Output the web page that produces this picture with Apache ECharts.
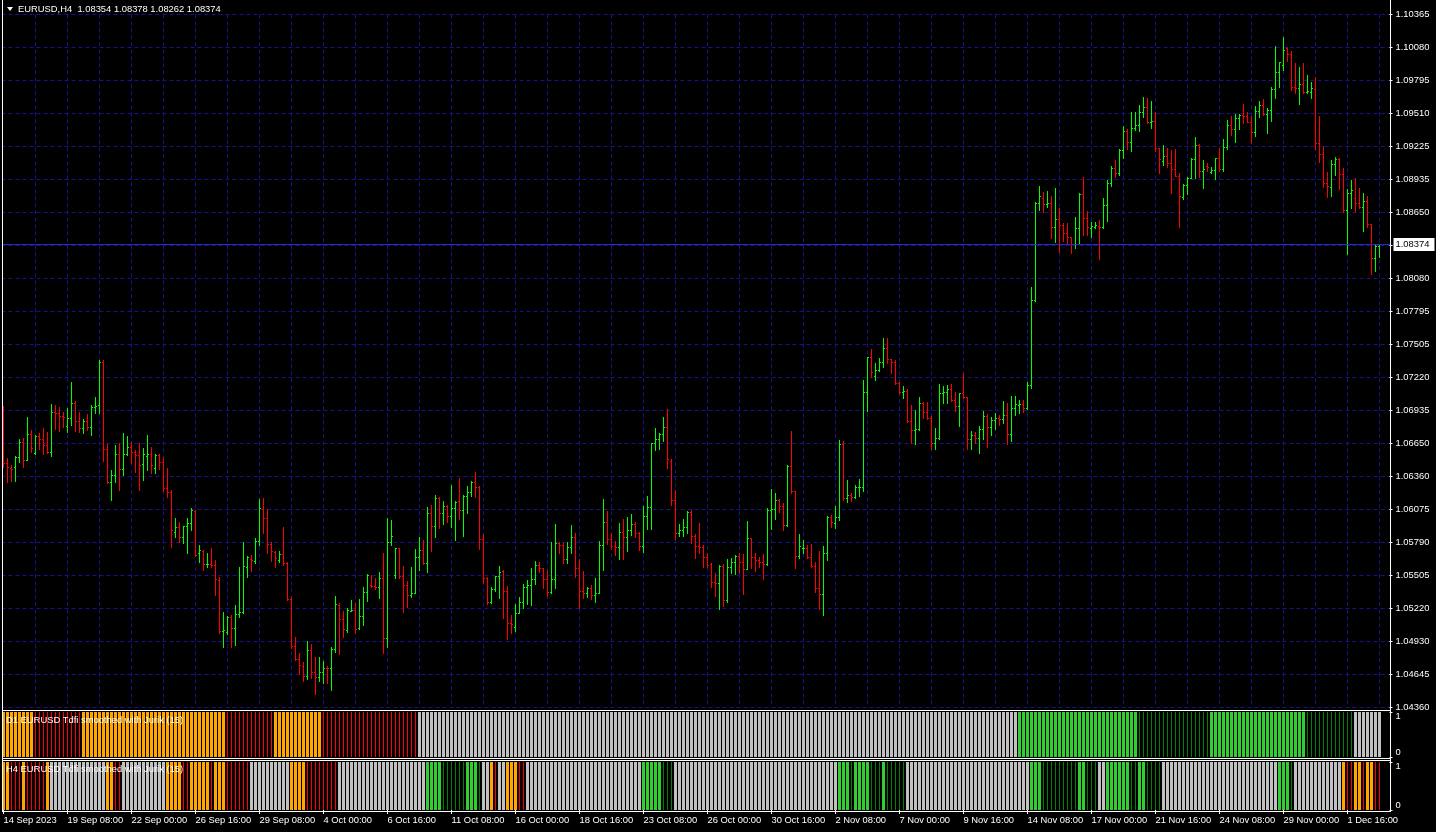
<!DOCTYPE html>
<html><head><meta charset="utf-8">
<script src="https://cdn.jsdelivr.net/npm/echarts@6/dist/echarts.min.js"></script>
<style>html,body{margin:0;padding:0;background:#000;overflow:hidden}#c{width:1436px;height:832px}</style>
</head><body><div id="c"></div><script>
const symbolName = 'EURUSD,H4';
// [open, high, low, close] per H4 bar, starting 14 Sep 2023 16:00
const priceBars = [
[1.06483,1.06971,1.06445,1.06474],[1.06480,1.06518,1.06315,1.06440],[1.06431,1.06460,1.06324,1.06425],[1.06440,1.06538,1.06324,1.06532],
[1.06532,1.06685,1.06483,1.06656],[1.06656,1.06691,1.06445,1.06503],[1.06503,1.06876,1.06503,1.06726],[1.06726,1.06763,1.06575,1.06604],
[1.06561,1.06720,1.06555,1.06714],[1.06714,1.06734,1.06598,1.06682],[1.06682,1.06778,1.06555,1.06633],[1.06633,1.06749,1.06561,1.06570],
[1.06570,1.06988,1.06538,1.06916],[1.06922,1.06980,1.06772,1.06908],[1.06908,1.06959,1.06754,1.06884],[1.06884,1.06922,1.06786,1.06879],
[1.06798,1.06951,1.06749,1.06864],[1.06864,1.07179,1.06806,1.07000],[1.07000,1.07014,1.06757,1.06844],[1.06844,1.06922,1.06749,1.06783],
[1.06778,1.06858,1.06740,1.06844],[1.06844,1.06902,1.06763,1.06786],[1.06786,1.06980,1.06720,1.06959],[1.06959,1.07049,1.06913,1.06974],
[1.06977,1.07370,1.06913,1.07349],[1.07349,1.07370,1.06497,1.06598],[1.06598,1.06639,1.06301,1.06310],[1.06310,1.06416,1.06157,1.06373],
[1.06373,1.06633,1.06315,1.06552],[1.06552,1.06647,1.06243,1.06425],[1.06425,1.06734,1.06373,1.06552],[1.06552,1.06711,1.06547,1.06619],
[1.06619,1.06662,1.06480,1.06575],[1.06575,1.06590,1.06402,1.06547],[1.06547,1.06647,1.06243,1.06460],[1.06466,1.06610,1.06330,1.06552],
[1.06540,1.06720,1.06416,1.06552],[1.06552,1.06619,1.06388,1.06460],[1.06431,1.06555,1.06393,1.06546],[1.06546,1.06555,1.06422,1.06489],
[1.06489,1.06532,1.06237,1.06258],[1.06258,1.06431,1.06185,1.06229],[1.06229,1.06243,1.05752,1.05897],[1.05882,1.05998,1.05839,1.05925],
[1.05925,1.05969,1.05795,1.05839],[1.05839,1.05931,1.05781,1.05931],[1.05931,1.06003,1.05694,1.05954],[1.05954,1.06090,1.05897,1.06070],
[1.06064,1.06070,1.05674,1.05680],[1.05694,1.05767,1.05616,1.05723],[1.05715,1.05723,1.05550,1.05599],[1.05599,1.05694,1.05573,1.05605],
[1.05605,1.05738,1.05579,1.05593],[1.05593,1.05636,1.05333,1.05469],[1.05463,1.05492,1.05007,1.05024],[1.05024,1.05189,1.04880,1.05030],
[1.05016,1.05154,1.04993,1.05146],[1.05146,1.05160,1.04886,1.05045],[1.05045,1.05247,1.04900,1.05166],[1.05166,1.05579,1.05146,1.05183],
[1.05183,1.05795,1.05175,1.05585],[1.05579,1.05674,1.05492,1.05665],[1.05642,1.05680,1.05544,1.05636],[1.05628,1.05824,1.05614,1.05801],
[1.05801,1.06165,1.05767,1.06084],[1.06078,1.06171,1.05873,1.05998],[1.05998,1.06078,1.05694,1.05775],[1.05775,1.05795,1.05631,1.05715],
[1.05709,1.05717,1.05573,1.05651],[1.05636,1.05717,1.05616,1.05686],[1.05686,1.05925,1.05593,1.05614],[1.05614,1.05622,1.05290,1.05296],
[1.05296,1.05313,1.04871,1.04892],[1.04892,1.04972,1.04770,1.04776],[1.04776,1.04834,1.04649,1.04727],[1.04718,1.04756,1.04591,1.04632],
[1.04632,1.04935,1.04603,1.04857],[1.04857,1.04909,1.04611,1.04669],[1.04669,1.04799,1.04476,1.04626],[1.04620,1.04799,1.04591,1.04669],
[1.04669,1.04762,1.04574,1.04704],[1.04704,1.04721,1.04568,1.04698],[1.04698,1.04880,1.04510,1.04863],[1.04863,1.05325,1.04842,1.05252],
[1.05247,1.05261,1.04822,1.05123],[1.05123,1.05198,1.04972,1.05036],[1.05030,1.05224,1.05016,1.05203],[1.05198,1.05290,1.05198,1.05205],
[1.05203,1.05266,1.05007,1.05036],[1.05045,1.05299,1.05036,1.05152],[1.05152,1.05406,1.05074,1.05357],[1.05357,1.05515,1.05284,1.05507],
[1.05420,1.05507,1.05406,1.05414],[1.05414,1.05478,1.05383,1.05406],[1.05406,1.05536,1.05310,1.05478],[1.05478,1.05694,1.04828,1.04958],
[1.04958,1.05997,1.04880,1.05795],[1.05795,1.05986,1.05767,1.05845],[1.05507,1.05744,1.05478,1.05738],[1.05738,1.05744,1.05478,1.05501],
[1.05501,1.05585,1.05189,1.05420],[1.05420,1.05458,1.05226,1.05334],[1.05334,1.05579,1.05313,1.05354],[1.05354,1.05729,1.05348,1.05660],
[1.05660,1.05839,1.05550,1.05723],[1.05723,1.05810,1.05602,1.05608],[1.05608,1.06099,1.05536,1.06041],[1.06041,1.06113,1.05718,1.05931],
[1.05931,1.06200,1.05839,1.06171],[1.06171,1.06180,1.05917,1.06047],[1.06047,1.06148,1.05949,1.06105],[1.06105,1.06113,1.05969,1.06021],
[1.06021,1.06287,1.05926,1.06084],[1.06084,1.06148,1.05810,1.06142],[1.06148,1.06344,1.05992,1.06070],[1.06070,1.06200,1.05845,1.06191],
[1.06191,1.06278,1.06047,1.06223],[1.06223,1.06321,1.06191,1.06315],[1.06315,1.06402,1.06185,1.06266],[1.06266,1.06278,1.05729,1.05816],
[1.05816,1.05862,1.05440,1.05484],[1.05484,1.05492,1.05256,1.05276],[1.05276,1.05400,1.05261,1.05382],[1.05382,1.05501,1.05371,1.05498],
[1.05498,1.05585,1.05310,1.05536],[1.05541,1.05550,1.05137,1.05368],[1.05368,1.05411,1.04949,1.05088],[1.05088,1.05160,1.05007,1.05080],
[1.05053,1.05256,1.05024,1.05175],[1.05175,1.05319,1.05175,1.05270],[1.05270,1.05429,1.05224,1.05406],[1.05406,1.05463,1.05256,1.05417],
[1.05417,1.05565,1.05247,1.05469],[1.05469,1.05628,1.05429,1.05593],[1.05593,1.05622,1.05536,1.05570],[1.05565,1.05565,1.05391,1.05469],
[1.05469,1.05550,1.05328,1.05357],[1.05357,1.05796,1.05354,1.05469],[1.05469,1.05949,1.05391,1.05787],[1.05787,1.05796,1.05700,1.05767],
[1.05767,1.05787,1.05608,1.05642],[1.05642,1.05796,1.05608,1.05752],[1.05752,1.05940,1.05700,1.05833],[1.05833,1.05868,1.05492,1.05565],
[1.05565,1.05645,1.05224,1.05368],[1.05368,1.05541,1.05310,1.05354],[1.05354,1.05406,1.05313,1.05391],[1.05391,1.05420,1.05299,1.05334],
[1.05334,1.05484,1.05276,1.05354],[1.05354,1.05801,1.05348,1.05767],[1.05767,1.06165,1.05550,1.05963],[1.05963,1.06061,1.05775,1.05816],
[1.05816,1.05874,1.05732,1.05761],[1.05761,1.05801,1.05680,1.05752],[1.05752,1.05960,1.05645,1.05876],[1.05876,1.05992,1.05645,1.05839],
[1.05839,1.06012,1.05715,1.05897],[1.05897,1.06035,1.05853,1.05949],[1.05949,1.05966,1.05833,1.05868],[1.05868,1.05882,1.05723,1.05761],
[1.05761,1.06105,1.05706,1.06021],[1.06021,1.06191,1.05906,1.06093],[1.06093,1.06653,1.05906,1.06647],[1.06647,1.06783,1.06590,1.06682],
[1.06682,1.06740,1.06598,1.06726],[1.06726,1.06879,1.06671,1.06786],[1.06786,1.06945,1.06437,1.06509],[1.06497,1.06509,1.06113,1.06157],
[1.06157,1.06243,1.05819,1.05868],[1.05868,1.05949,1.05845,1.05897],[1.05897,1.05992,1.05845,1.05920],[1.05920,1.06061,1.05868,1.06055],
[1.06055,1.06070,1.05781,1.05847],[1.05847,1.05859,1.05657,1.05760],[1.05760,1.05954,1.05700,1.05752],[1.05752,1.05767,1.05579,1.05660],
[1.05660,1.05694,1.05579,1.05593],[1.05602,1.05613,1.05406,1.05449],[1.05449,1.05527,1.05328,1.05440],[1.05440,1.05593,1.05212,1.05588],
[1.05588,1.05599,1.05241,1.05290],[1.05290,1.05642,1.05276,1.05579],[1.05579,1.05657,1.05527,1.05622],[1.05622,1.05680,1.05515,1.05671],
[1.05671,1.05694,1.05521,1.05616],[1.05616,1.05686,1.05342,1.05560],[1.05556,1.05975,1.05556,1.05824],[1.05824,1.05830,1.05564,1.05660],
[1.05660,1.05694,1.05541,1.05637],[1.05637,1.05665,1.05579,1.05622],[1.05622,1.05686,1.05469,1.05602],[1.05602,1.06084,1.05593,1.06070],
[1.06070,1.06252,1.05905,1.06075],[1.06075,1.06220,1.05992,1.06157],[1.06157,1.06165,1.06055,1.06107],[1.06107,1.06128,1.05897,1.05940],
[1.05940,1.06460,1.05931,1.06451],[1.06451,1.06754,1.06214,1.06237],[1.06237,1.06237,1.05570,1.05674],[1.05674,1.05862,1.05657,1.05758],
[1.05738,1.05810,1.05694,1.05743],[1.05743,1.05767,1.05657,1.05665],[1.05665,1.05775,1.05579,1.05585],[1.05585,1.05622,1.05362,1.05391],
[1.05391,1.05715,1.05212,1.05342],[1.05342,1.05758,1.05160,1.05694],[1.05694,1.06018,1.05637,1.06012],[1.06012,1.06027,1.05920,1.05963],
[1.05954,1.06105,1.05911,1.06006],[1.06006,1.06676,1.05983,1.06639],[1.06639,1.06668,1.06160,1.06172],[1.06172,1.06330,1.06140,1.06200],
[1.06200,1.06214,1.06150,1.06186],[1.06186,1.06287,1.06170,1.06266],[1.06266,1.06339,1.06194,1.06272],[1.06272,1.07196,1.06237,1.07095],
[1.07095,1.07399,1.06931,1.07393],[1.07393,1.07465,1.07220,1.07263],[1.07231,1.07341,1.07196,1.07283],[1.07283,1.07384,1.07275,1.07355],
[1.07355,1.07563,1.07312,1.07471],[1.07471,1.07563,1.07341,1.07375],[1.07375,1.07380,1.07260,1.07349],[1.07349,1.07370,1.07159,1.07167],
[1.07167,1.07176,1.07081,1.07095],[1.07095,1.07144,1.07043,1.07101],[1.07101,1.07115,1.06835,1.06844],[1.06844,1.06980,1.06648,1.06763],
[1.06763,1.06936,1.06639,1.06769],[1.06769,1.07052,1.06763,1.07000],[1.07000,1.07006,1.06864,1.06916],[1.06916,1.07009,1.06856,1.06864],
[1.06864,1.06885,1.06598,1.06648],[1.06648,1.06783,1.06595,1.06691],[1.06691,1.07162,1.06685,1.07081],[1.07081,1.07144,1.06994,1.07089],
[1.07089,1.07153,1.07000,1.07115],[1.07115,1.07162,1.07017,1.07023],[1.07023,1.07095,1.06928,1.06974],[1.06974,1.07087,1.06801,1.07081],
[1.07081,1.07260,1.07037,1.07052],[1.07052,1.07052,1.06595,1.06685],[1.06685,1.06754,1.06598,1.06720],[1.06720,1.06743,1.06648,1.06691],
[1.06691,1.06798,1.06561,1.06772],[1.06772,1.06931,1.06685,1.06885],[1.06885,1.06902,1.06618,1.06792],[1.06792,1.06873,1.06720,1.06850],
[1.06850,1.06908,1.06772,1.06864],[1.06864,1.06893,1.06807,1.06856],[1.06856,1.07015,1.06821,1.06893],[1.06893,1.07000,1.06642,1.06726],
[1.06726,1.07058,1.06671,1.06951],[1.06951,1.07058,1.06893,1.06986],[1.06980,1.07023,1.06913,1.06990],[1.06990,1.07023,1.06922,1.06951],
[1.06951,1.07182,1.06942,1.07153],[1.07153,1.08005,1.07130,1.07890],[1.07890,1.08736,1.07884,1.08727],[1.08727,1.08877,1.08669,1.08791],
[1.08771,1.08825,1.08655,1.08721],[1.08721,1.08834,1.08698,1.08727],[1.08727,1.08791,1.08430,1.08519],[1.08519,1.08857,1.08395,1.08588],
[1.08588,1.08684,1.08308,1.08539],[1.08539,1.08554,1.08401,1.08467],[1.08467,1.08554,1.08386,1.08432],[1.08432,1.08438,1.08294,1.08375],
[1.08375,1.08612,1.08337,1.08511],[1.08511,1.08814,1.08386,1.08808],[1.08808,1.08958,1.08453,1.08597],[1.08597,1.08661,1.08453,1.08519],
[1.08511,1.08568,1.08438,1.08531],[1.08525,1.08568,1.08511,1.08537],[1.08531,1.08583,1.08242,1.08525],[1.08525,1.08771,1.08511,1.08713],
[1.08713,1.08929,1.08577,1.08900],[1.08900,1.09050,1.08880,1.09030],[1.09030,1.09100,1.08958,1.08990],[1.08990,1.09200,1.08970,1.09186],
[1.09186,1.09397,1.09123,1.09357],[1.09357,1.09371,1.09198,1.09262],[1.09262,1.09518,1.09181,1.09377],[1.09377,1.09518,1.09362,1.09406],
[1.09406,1.09579,1.09357,1.09521],[1.09521,1.09651,1.09478,1.09559],[1.09559,1.09643,1.09420,1.09429],[1.09429,1.09614,1.09383,1.09443],
[1.09443,1.09516,1.09181,1.09204],[1.09204,1.09210,1.08993,1.09108],[1.09094,1.09233,1.09059,1.09137],[1.09137,1.09210,1.09045,1.09080],
[1.09080,1.09189,1.08820,1.09022],[1.09022,1.09195,1.08964,1.08964],[1.08964,1.08987,1.08519,1.08791],[1.08779,1.08895,1.08765,1.08886],
[1.08886,1.08958,1.08808,1.08950],[1.08950,1.09117,1.08944,1.09108],[1.09108,1.09305,1.08944,1.09233],[1.09233,1.09241,1.08958,1.09010],
[1.09010,1.09103,1.08863,1.09022],[1.09051,1.09074,1.09010,1.09039],[1.08996,1.09045,1.08993,1.09016],[1.09016,1.09117,1.08938,1.09117],
[1.09117,1.09210,1.09007,1.09022],[1.09022,1.09285,1.09007,1.09212],[1.09212,1.09449,1.09200,1.09406],[1.09406,1.09484,1.09319,1.09368],
[1.09368,1.09498,1.09262,1.09464],[1.09464,1.09501,1.09371,1.09493],[1.09493,1.09588,1.09420,1.09484],[1.09484,1.09516,1.09429,1.09435],
[1.09435,1.09484,1.09247,1.09342],[1.09342,1.09573,1.09313,1.09527],[1.09527,1.09614,1.09472,1.09579],[1.09579,1.09631,1.09493,1.09501],
[1.09501,1.09556,1.09340,1.09536],[1.09536,1.09738,1.09443,1.09718],[1.09718,1.10090,1.09637,1.09862],[1.09862,1.09955,1.09732,1.09949],
[1.09926,1.10171,1.09882,1.10056],[1.10070,1.10085,1.09963,1.10021],[1.10021,1.10047,1.09709,1.09738],[1.09738,1.09940,1.09686,1.09724],
[1.09724,1.09911,1.09588,1.09761],[1.09761,1.09946,1.09680,1.09689],[1.09689,1.09839,1.09680,1.09700],[1.09689,1.09781,1.09643,1.09724],
[1.09715,1.09819,1.09195,1.09247],[1.09247,1.09484,1.09088,1.09152],[1.09152,1.09224,1.08872,1.08901],[1.08901,1.09002,1.08785,1.08880],
[1.08872,1.09103,1.08794,1.09065],[1.09065,1.09132,1.08973,1.09111],[1.09111,1.09123,1.08854,1.08978],[1.08978,1.09036,1.08655,1.08670],
[1.08670,1.08852,1.08285,1.08814],[1.08814,1.08929,1.08690,1.08843],[1.08771,1.08950,1.08661,1.08727],[1.08727,1.08863,1.08684,1.08693],
[1.08693,1.08814,1.08490,1.08747],[1.08747,1.08794,1.08525,1.08548],[1.08548,1.08548,1.08112,1.08251],[1.08251,1.08372,1.08144,1.08354],
[1.08354,1.08378,1.08262,1.08374]
];
// price scale labels, bottom to top
const yTickLabels = ['1.04360','1.04645','1.04930','1.05220','1.05505','1.05790','1.06075','1.06360','1.06650','1.06935','1.07220',
  '1.07505','1.07795','1.08080','1.08365','1.08650','1.08935','1.09225','1.09510','1.09795','1.10080','1.10365'];
const priceMin = 1.04360, priceMax = 1.10365;
// time scale labels, one every 16 bars
const xTickLabels = ['14 Sep 2023','19 Sep 08:00','22 Sep 00:00','26 Sep 16:00','29 Sep 08:00','4 Oct 00:00','6 Oct 16:00',
  '11 Oct 08:00','16 Oct 00:00','18 Oct 16:00','23 Oct 08:00','26 Oct 00:00','30 Oct 16:00','2 Nov 08:00','7 Nov 00:00',
  '9 Nov 16:00','14 Nov 08:00','17 Nov 00:00','21 Nov 16:00','24 Nov 08:00','29 Nov 00:00','1 Dec 16:00'];
// indicator states as runs: O strong down, R weak down, G neutral, U strong up, D weak up
const d1Runs = [['O',8],['R',12],['O',36],['R',12],['O',12],['R',24],['G',150],['U',30],['D',18],['U',24],['D',12],['G',7]];
const h4Runs = [['O',2],['R',3],['O',1],['R',5],['O',1],['G',14],['O',2],['R',2],['G',11],['O',4],['R',2],['O',5],['R',1],['O',3],
  ['R',6],['G',10],['O',4],['R',8],['G',22],['U',4],['D',6],['U',3],['D',1],['G',2],['O',1],['R',1],['G',2],['O',3],['R',2],
  ['G',29],['U',5],['D',3],['G',41],['U',3],['D',1],['U',4],['D',3],['U',1],['D',5],['G',31],['U',3],['D',9],['U',2],['D',3],
  ['G',2],['U',6],['D',2],['U',2],['D',4],['G',29],['U',3],['D',1],['G',12],['O',1],['R',2],['O',2],['R',1],['O',2],['R',2]];
const indicatorLabels = ['D1 EURUSD Tdfi smoothed with Jurik (15)','H4 EURUSD Tdfi smoothed with Jurik (15)'];
const indicatorTicks = ['0','1'];

const N = priceBars.length, SLOTS = N + 2;
const cats = Array.from({length: SLOTS}, (_, i) => String(i));
const stateCode = {O:0, R:1, G:2, U:3, D:4};
const stateColor = ['#FFA500', '#FF0000', '#C0C0C0', '#32CD32', '#008000'];
function expand(runs){ const out=[]; runs.forEach(([s,n])=>{ for(let k=0;k<n;k++) out.push(stateCode[s]); }); return out; }
const d1 = expand(d1Runs).map((s,i)=>[i,s]);
const h4 = expand(h4Runs).map((s,i)=>[i,s]);
const last = priceBars[N-1];
const UP = '#00FF00', DOWN = '#FF0000', GRID = '#14148c', BID = '#2a2ac0';
const FONT = 'Liberation Sans, Arial, sans-serif', FS = 9.4;

function renderBar(params, api){
  const i = api.value(0), o = api.value(1), h = api.value(2), l = api.value(3), c = api.value(4);
  const pO = api.coord([i, o]);
  const cx = Math.floor(pO[0]);
  const yO = Math.round(pO[1]), yC = Math.round(api.coord([i, c])[1]);
  const yH = Math.round(api.coord([i, h])[1]), yL = Math.round(api.coord([i, l])[1]);
  const top = Math.min(yH, yO, yC), bot = Math.max(yL, yO, yC);
  const col = c >= o ? UP : DOWN;
  return {type:'group', children:[
    {type:'rect', shape:{x:cx, y:top, width:1, height:bot-top+1}, style:{fill:col}},
    {type:'rect', shape:{x:cx-1, y:yO, width:1, height:1}, style:{fill:col}},
    {type:'rect', shape:{x:cx+1, y:yC, width:1, height:1}, style:{fill:col}}
  ]};
}
function renderBid(params, api){
  const v = api.value(0);
  const cs = params.coordSys;
  const y = Math.round(api.coord([0, v])[1]);
  const right = cs.x + cs.width;
  return {type:'group', children:[
    {type:'rect', shape:{x:cs.x + 1, y:y, width:cs.width, height:1}, style:{fill:BID}},
    {type:'rect', shape:{x:right + 4, y:y - 6, width:41, height:13}, style:{fill:'#fff'}},
    {type:'text', x:right + 6, y:y + 0.5, style:{text:v.toFixed(5), fill:'#000', font: FS + 'px ' + FONT, verticalAlign:'middle', align:'left'}}
  ]};
}
function renderState(params, api){
  const i = api.value(0), s = api.value(1);
  const p1 = api.coord([i, 1]), p0 = api.coord([i, 0]);
  const cx = Math.floor(p1[0]);
  const wide = (s === 0 || s === 2 || s === 3);
  return {type:'rect', shape:{x: wide ? cx-1 : cx, y: Math.round(p1[1]), width: wide ? 3 : 1, height: Math.round(p0[1]) - Math.round(p1[1])},
    style:{fill: stateColor[s]}};
}
const labelEvery = 16;
const chart = echarts.init(document.getElementById('c'), null, {renderer:'canvas'});
const hiddenCat = {type:'category', data:cats, boundaryGap:true, axisLine:{show:false}, axisTick:{show:false}, axisLabel:{show:false}, splitLine:{show:false}};
chart.setOption({
  animation:false, backgroundColor:'#000',
  grid:[
    {left:1.5, top:14.3, width:4*SLOTS, height:693},
    {left:1.5, top:712, width:4*SLOTS, height:45},
    {left:1.5, top:762, width:4*SLOTS, height:48}
  ],
  xAxis:[
    Object.assign({}, hiddenCat, {gridIndex:0, splitLine:{show:true, alignWithLabel:true, interval:(idx)=> idx % 8 === 0 && idx > 0 && idx < N,
      lineStyle:{color:GRID, type:[4,3], width:1}}}),
    Object.assign({}, hiddenCat, {gridIndex:1}),
    Object.assign({}, hiddenCat, {gridIndex:2, axisLine:{show:false},
      axisTick:{show:true, alignWithLabel:true, length:4, interval:(idx)=> idx % labelEvery === 0 && idx < N, lineStyle:{color:'#fff'}},
      axisLabel:{show:true, interval:(idx)=> idx % labelEvery === 0 && idx < N, formatter:(v, idx)=> xTickLabels[idx/labelEvery] || '',
        color:'#fff', fontSize:FS, fontFamily:FONT, align:'left', margin:6}})
  ],
  yAxis:[
    {type:'value', gridIndex:0, min:priceMin, max:priceMax, show:false, splitLine:{show:false}},
    {type:'value', gridIndex:0, min:0, max:yTickLabels.length-1, interval:1, position:'right',
      axisLine:{show:false}, axisTick:{show:true, length:3, lineStyle:{color:'#fff'}},
      axisLabel:{formatter:(v)=> yTickLabels[Math.round(v)], color:'#fff', fontSize:FS, fontFamily:FONT, margin:6},
      splitLine:{show:true, lineStyle:{color:GRID, type:[4,3], width:1}}},
    {type:'value', gridIndex:1, min:0, max:1, interval:1, position:'right', axisLine:{show:false},
      axisTick:{show:true, length:3, lineStyle:{color:'#fff'}}, splitLine:{show:false},
      axisLabel:{formatter:(v)=> indicatorTicks[v], color:'#fff', fontSize:FS, fontFamily:FONT, margin:6,
        verticalAlignMinLabel:'bottom', verticalAlignMaxLabel:'top'}},
    {type:'value', gridIndex:2, min:0, max:1, interval:1, position:'right', axisLine:{show:false},
      axisTick:{show:true, length:3, lineStyle:{color:'#fff'}}, splitLine:{show:false},
      axisLabel:{formatter:(v)=> indicatorTicks[v], color:'#fff', fontSize:FS, fontFamily:FONT, margin:6,
        verticalAlignMinLabel:'bottom', verticalAlignMaxLabel:'top'}}
  ],
  series:[
    {type:'custom', xAxisIndex:0, yAxisIndex:0, renderItem:renderBar, data:priceBars.map((b,i)=>[i, b[0], b[1], b[2], b[3]]),
      encode:{x:0, y:[1,2,3,4]}, clip:true, z:3},
    {type:'custom', xAxisIndex:0, yAxisIndex:0, renderItem:renderBid, data:[[last[3]]], encode:{y:0}, clip:false, z:4},
    {type:'custom', xAxisIndex:1, yAxisIndex:2, renderItem:renderState, data:d1, encode:{x:0, y:1}},
    {type:'custom', xAxisIndex:2, yAxisIndex:3, renderItem:renderState, data:h4, encode:{x:0, y:1}}
  ],
  graphic:[
    {type:'rect', shape:{x:2, y:0, width:1, height:812}, style:{fill:'#fff'}, z:50},
    {type:'rect', shape:{x:1390, y:0, width:1, height:812}, style:{fill:'#fff'}, z:50},
    {type:'rect', shape:{x:2, y:710, width:1389, height:1}, style:{fill:'#fff'}, z:50},
    {type:'rect', shape:{x:2, y:758, width:1389, height:1}, style:{fill:'#fff'}, z:50},
    {type:'rect', shape:{x:2, y:760, width:1389, height:1}, style:{fill:'#fff'}, z:50},
    {type:'rect', shape:{x:2, y:811, width:1389, height:1}, style:{fill:'#fff'}, z:50},
    {type:'polygon', shape:{points:[[7,7],[13,7],[10,11]]}, style:{fill:'#fff'}, z:50},
    {type:'text', x:18, y:5, style:{text: symbolName + '  ' + last.map(v=>v.toFixed(5)).join(' '), fill:'#fff', font: FS + 'px ' + FONT}, z:50},
    {type:'text', x:6, y:716, style:{text: indicatorLabels[0], fill:'#fff', font: FS + 'px ' + FONT}, z:50},
    {type:'text', x:6, y:765, style:{text: indicatorLabels[1], fill:'#fff', font: FS + 'px ' + FONT}, z:50}
  ]
});
</script></body></html>
